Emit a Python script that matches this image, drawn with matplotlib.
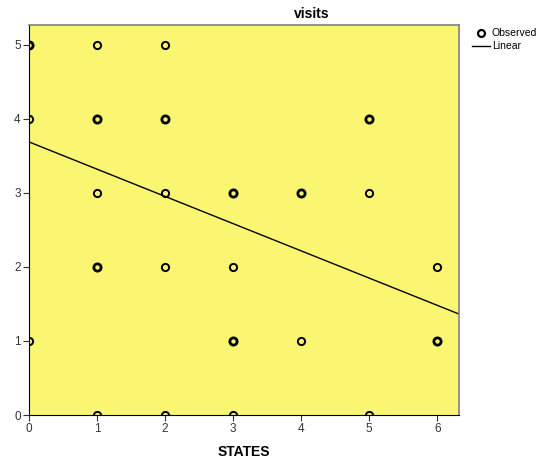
import numpy as np
import matplotlib.pyplot as plt

plt.rcParams['font.family'] = ['Liberation Sans', 'DejaVu Sans']

# observed points (STATES, visits)
states = [0, 0, 0, 1, 1, 1, 1, 1, 2, 2, 2, 2, 2, 3, 3, 3, 3, 4, 4, 5, 5, 5, 6, 6]
visits = [5, 4, 1, 5, 4, 3, 2, 0, 5, 4, 3, 2, 0, 3, 2, 1, 0, 3, 1, 4, 3, 0, 2, 1]
# points drawn heavier (several cases on the same spot)
heavy = [(0, 5), (1, 4), (1, 2), (2, 4), (3, 3), (3, 1), (4, 3), (5, 4), (6, 1)]

# linear fit
intercept = 3.69
slope = -0.368

fig = plt.figure(figsize=(5.4, 4.62), dpi=100)
ax = fig.add_axes([29 / 540, 1 - 415 / 462, 430 / 540, 390 / 462])
ax.set_facecolor('#FAF672')

xmax, ymax = 6.32, 5.27
ax.set_xlim(0, xmax)
ax.set_ylim(0, ymax)

for x, y in zip(states, visits):
    lw = 2.0 if (x, y) in heavy else 1.4
    ax.plot(x, y, 'o', ms=5.2, mfc='none', mec='black', mew=lw, zorder=3)

xs = np.array([0, xmax])
ax.plot(xs, intercept + slope * xs, color='black', lw=1.0, zorder=2)

ax.set_xticks(range(0, 7))
ax.set_yticks(range(0, 6))
ax.tick_params(labelsize=8.5, length=4, width=0.8, colors='#333333', pad=2)
for side in ['left', 'bottom']:
    ax.spines[side].set_color('black')
for side in ['top', 'right']:
    ax.spines[side].set_color('#808080')
    ax.spines[side].set_linewidth(1.2)

fig.text(244 / 540, 1 - 452 / 462, 'STATES', ha='center', va='center',
         fontsize=10, fontweight='bold')
fig.text(312 / 540, 1 - 14 / 462, 'visits', ha='center', va='center',
         fontsize=10, fontweight='bold')

# legend
fig.lines.append(plt.Line2D([481 / 540], [1 - 33 / 462], marker='o', ms=5,
                            mfc='none', mec='black', mew=1.6,
                            transform=fig.transFigure))
fig.text(492 / 540, 1 - 33 / 462, 'Observed', fontsize=7.5, va='center')
fig.lines.append(plt.Line2D([472 / 540, 490 / 540], [1 - 46 / 462] * 2,
                            color='black', lw=1, transform=fig.transFigure))
fig.text(492 / 540, 1 - 46 / 462, 'Linear', fontsize=7.5, va='center')

fig.savefig('out.png', dpi=100)
